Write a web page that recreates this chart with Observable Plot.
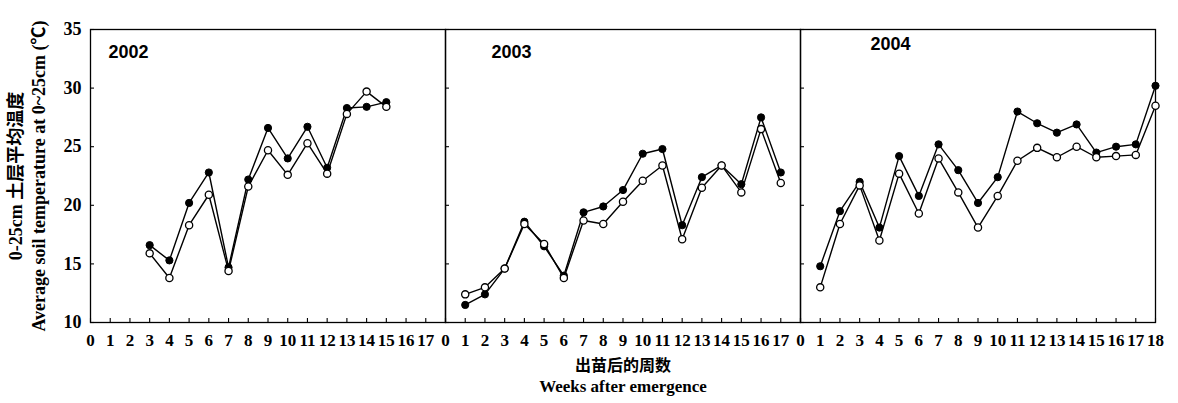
<!DOCTYPE html>
<html>
<head>
<meta charset="utf-8">
<script src="https://cdn.jsdelivr.net/npm/d3@7"></script>
<script src="https://cdn.jsdelivr.net/npm/@observablehq/plot@0.6"></script>
<style>
  html, body { margin: 0; padding: 0; background: #fff; }
</style>
</head>
<body>
<div id="chart"></div>
<script>
// Average soil temperature at 0–25 cm, by week after emergence, three seasons.
const years = ["2002", "2003", "2004"];

const weeks2002 = [3, 4, 5, 6, 7, 8, 9, 10, 11, 12, 13, 14, 15];
const solid2002 = [16.6, 15.3, 20.2, 22.8, 14.7, 22.2, 26.6, 24.0, 26.7, 23.2, 28.3, 28.4, 28.8];
const hollow2002 = [15.9, 13.8, 18.3, 20.9, 14.4, 21.6, 24.7, 22.6, 25.3, 22.7, 27.8, 29.7, 28.4];

const weeks2003 = [1, 2, 3, 4, 5, 6, 7, 8, 9, 10, 11, 12, 13, 14, 15, 16, 17];
const solid2003 = [11.5, 12.4, 14.6, 18.6, 16.5, 14.0, 19.4, 19.9, 21.3, 24.4, 24.8, 18.3, 22.4, 23.4, 21.8, 27.5, 22.8];
const hollow2003 = [12.4, 13.0, 14.6, 18.4, 16.7, 13.8, 18.7, 18.4, 20.3, 22.1, 23.4, 17.1, 21.5, 23.4, 21.1, 26.5, 21.9];

const weeks2004 = [1, 2, 3, 4, 5, 6, 7, 8, 9, 10, 11, 12, 13, 14, 15, 16, 17, 18];
const solid2004 = [14.8, 19.5, 22.0, 18.1, 24.2, 20.8, 25.2, 23.0, 20.2, 22.4, 28.0, 27.0, 26.2, 26.9, 24.5, 25.0, 25.2, 30.2];
const hollow2004 = [13.0, 18.4, 21.7, 17.0, 22.7, 19.3, 24.0, 21.1, 18.1, 20.8, 23.8, 24.9, 24.1, 25.0, 24.1, 24.2, 24.3, 28.5];

const yTicks = [10, 15, 20, 25, 30, 35];
const xTicks = [0, 1, 2, 3, 4, 5, 6, 7, 8, 9, 10, 11, 12, 13, 14, 15, 16, 17, 18];
const weekLabels = [0, 1, 2, 3, 4, 5, 6, 7, 8, 9, 10, 11, 12, 13, 14, 15, 16, 17];
const weekLabels2004 = [0, 1, 2, 3, 4, 5, 6, 7, 8, 9, 10, 11, 12, 13, 14, 15, 16, 17, 18];

const yTitleZh = "0-25cm 土层平均温度";
const yTitleEn = "Average soil temperature at 0~25cm (\u2103)";
const xTitleZh = "出苗后的周数";
const xTitleEn = "Weeks after emergence";

// Long-format rows for the marks
const rows = [];
function addSeries(year, weeks, values, series) {
  weeks.forEach((w, i) => rows.push({year, week: w, temp: values[i], series}));
}
addSeries("2002", weeks2002, solid2002, "solid");
addSeries("2002", weeks2002, hollow2002, "hollow");
addSeries("2003", weeks2003, solid2003, "solid");
addSeries("2003", weeks2003, hollow2003, "hollow");
addSeries("2004", weeks2004, solid2004, "solid");
addSeries("2004", weeks2004, hollow2004, "hollow");

const labelRows = [];
[["2002", weekLabels], ["2003", weekLabels], ["2004", weekLabels2004]].forEach(([year, labels]) =>
  labels.forEach(w => labelRows.push({year, week: w}))
);

const serif = "'Liberation Serif', 'Times New Roman', 'Noto Sans CJK SC', serif";
const sans = "'Liberation Sans', Arial, sans-serif";
const cjk = "'Noto Sans CJK SC', sans-serif";

// Placement of the season label inside each panel
const yearLabelOffset = {"2002": [18, 28], "2003": [46, 28], "2004": [70, 20]};

const chart = Plot.plot({
  width: 1178,
  height: 403,
  marginLeft: 89,
  marginRight: 23,
  marginTop: 29,
  marginBottom: 81,
  style: {background: "#fff", color: "#000"},
  fx: {domain: years, padding: 0, axis: null},
  x: {domain: [0, 18], axis: null},
  y: {domain: [10, 35], axis: null},
  marks: [
    Plot.frame({stroke: "#000", strokeWidth: 1.3}),
    // inward ticks on each panel
    Plot.axisY(yTicks, {anchor: "left", tickSize: -4, facetAnchor: null, tickFormat: () => "", label: null, strokeWidth: 1.1}),
    Plot.axisX(xTicks, {anchor: "bottom", tickSize: -4, tickFormat: () => "", label: null, strokeWidth: 1.1}),
    // y tick labels on the first panel
    Plot.axisY(yTicks, {anchor: "left", tickSize: 0, tickPadding: 9, label: null,
      fontSize: 18, fontWeight: "bold", fontFamily: serif}),
    // week labels under each panel
    Plot.text(labelRows, {x: "week", fx: "year", text: d => String(d.week), frameAnchor: "bottom",
      lineAnchor: "top", dy: 11, fontSize: 17, fontWeight: "bold", fontFamily: serif}),
    // series
    Plot.line(rows, {x: "week", y: "temp", fx: "year", z: "series", stroke: "#000", strokeWidth: 1.4}),
    Plot.dot(rows.filter(d => d.series === "solid"), {x: "week", y: "temp", fx: "year", r: 3.6,
      fill: "#000", stroke: "#000", strokeWidth: 1}),
    Plot.dot(rows.filter(d => d.series === "hollow"), {x: "week", y: "temp", fx: "year", r: 3.6,
      fill: "#fff", stroke: "#000", strokeWidth: 1.3}),
    // season labels
    ...years.map(y => Plot.text([y], {fx: d => d, text: d => d, frameAnchor: "top-left",
      textAnchor: "start", lineAnchor: "bottom", dx: yearLabelOffset[y][0], dy: yearLabelOffset[y][1],
      fontSize: 18, fontWeight: "bold", fontFamily: sans})),
    // axis titles
    Plot.text([yTitleZh], {fx: () => "2002", text: d => d, frameAnchor: "left", textAnchor: "middle",
      lineAnchor: "middle", rotate: -90, dx: -74, fontSize: 18, fontWeight: "bold", fontFamily: serif}),
    Plot.text([yTitleEn], {fx: () => "2002", text: d => d, frameAnchor: "left", textAnchor: "middle",
      lineAnchor: "middle", rotate: -90, dx: -51, fontSize: 18, fontWeight: "bold", fontFamily: serif,
      letterSpacing: "0.4px"}),
    Plot.text([xTitleZh], {fx: () => "2003", text: d => d, frameAnchor: "bottom", lineAnchor: "middle",
      dy: 43, fontSize: 16, fontWeight: "bold", fontFamily: cjk}),
    Plot.text([xTitleEn], {fx: () => "2003", text: d => d, frameAnchor: "bottom", lineAnchor: "middle",
      dy: 64, fontSize: 17, fontWeight: "bold", fontFamily: serif})
  ]
});

document.getElementById("chart").append(chart);
</script>
</body>
</html>
